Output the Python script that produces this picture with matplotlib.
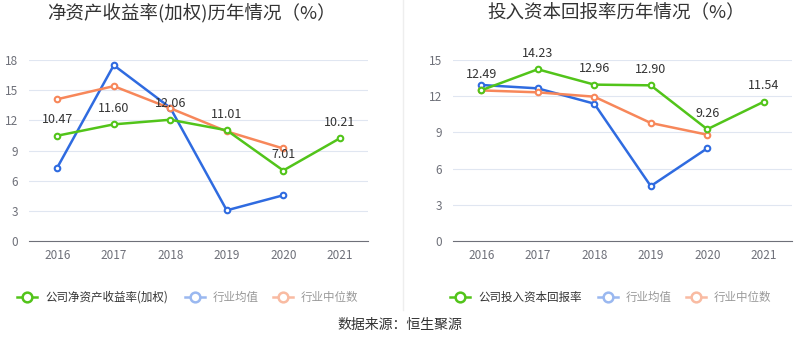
import matplotlib
matplotlib.use('Agg')
import matplotlib.pyplot as plt
from matplotlib.lines import Line2D

plt.rcParams['font.family'] = ['Noto Sans CJK SC', 'DejaVu Sans']

years = ['2016', '2017', '2018', '2019', '2020', '2021']

# 净资产收益率(加权)
roe_company = [10.47, 11.60, 12.06, 11.01, 7.01, 10.21]
roe_avg = [7.3, 17.48, 13.25, 3.05, 4.55]
roe_median = [14.1, 15.4, 13.2, 10.9, 9.2]

# 投入资本回报率
roic_company = [12.49, 14.23, 12.96, 12.90, 9.26, 11.54]
roic_avg = [12.93, 12.65, 11.38, 4.55, 7.68]
roic_median = [12.48, 12.32, 11.96, 9.78, 8.81]

green = '#52c41a'
blue = '#2f6be0'
orange = '#f7875a'

fig = plt.figure(figsize=(8, 3.58), dpi=100)

def panel(rect, comp, avg, med, ymax, title, tx, leg_name, leg_x):
    ax = fig.add_axes(rect)
    x = list(range(len(years)))
    ax.plot(x[:len(avg)], avg, color=blue, lw=1.8, marker='o', ms=4,
            mfc='white', mew=1.5, zorder=3)
    ax.plot(x[:len(med)], med, color=orange, lw=1.8, marker='o', ms=4,
            mfc='white', mew=1.5, zorder=3)
    ax.plot(x, comp, color=green, lw=1.8, marker='o', ms=4,
            mfc='white', mew=1.5, zorder=4)
    for i, v in enumerate(comp):
        ax.annotate('%.2f' % v, (i, v), xytext=(0, 7), textcoords='offset points',
                    ha='center', va='bottom', fontsize=9, color='#333333', zorder=5)
    ax.set_xlim(-0.5, 5.5)
    ax.set_ylim(0, ymax)
    ax.set_yticks(range(0, ymax + 1, 3))
    ax.set_xticks(x)
    ax.set_xticklabels(years)
    ax.grid(axis='y', color='#e0e6f1', lw=0.8)
    ax.set_axisbelow(True)
    for s in ['top', 'right', 'left']:
        ax.spines[s].set_visible(False)
    ax.spines['bottom'].set_color('#6e7079')
    ax.tick_params(axis='y', length=0, labelsize=8.5, labelcolor='#6e7079', pad=8)
    ax.tick_params(axis='x', length=0, labelsize=8.5, labelcolor='#6e7079', pad=6)
    fig.text(tx, 1 - 13 / 358, title, fontsize=13.3, color='#333333', va='center', ha='left')

    # legend
    ly = 1 - 297 / 358
    items = [(green, leg_name, '#333333'), ('#9ab8f0', '行业均值', '#999999'),
             ('#f9bba2', '行业中位数', '#999999')]
    for (c, name, tc), lx in zip(items, leg_x):
        fig.add_artist(Line2D([lx / 800, (lx + 20) / 800], [ly, ly], color=c, lw=1.8))
        fig.add_artist(Line2D([(lx + 10) / 800], [ly], color=c, marker='o', ms=7,
                              mfc='white', mew=1.8))
        fig.text((lx + 28) / 800, ly, name, fontsize=8.3, color=tc, va='center', ha='left')
    return ax

panel([29 / 800, 1 - 241 / 358, 339 / 800, 181 / 358], roe_company, roe_avg, roe_median,
      18, '净资产收益率(加权)历年情况（%）', 47 / 800, '公司净资产收益率(加权)', [17, 185, 273])
panel([453 / 800, 1 - 241 / 358, 339 / 800, 181 / 358], roic_company, roic_avg, roic_median,
      15, '投入资本回报率历年情况（%）', 487 / 800, '公司投入资本回报率', [450, 598, 686])

fig.add_artist(Line2D([403 / 800, 403 / 800], [1 - 310 / 358, 1], color='#eeeeee', lw=1))
fig.text(0.5, 1 - 325 / 358, '数据来源：恒生聚源', fontsize=10, color='#333333',
         ha='center', va='center')

fig.savefig('out.png', dpi=100)
